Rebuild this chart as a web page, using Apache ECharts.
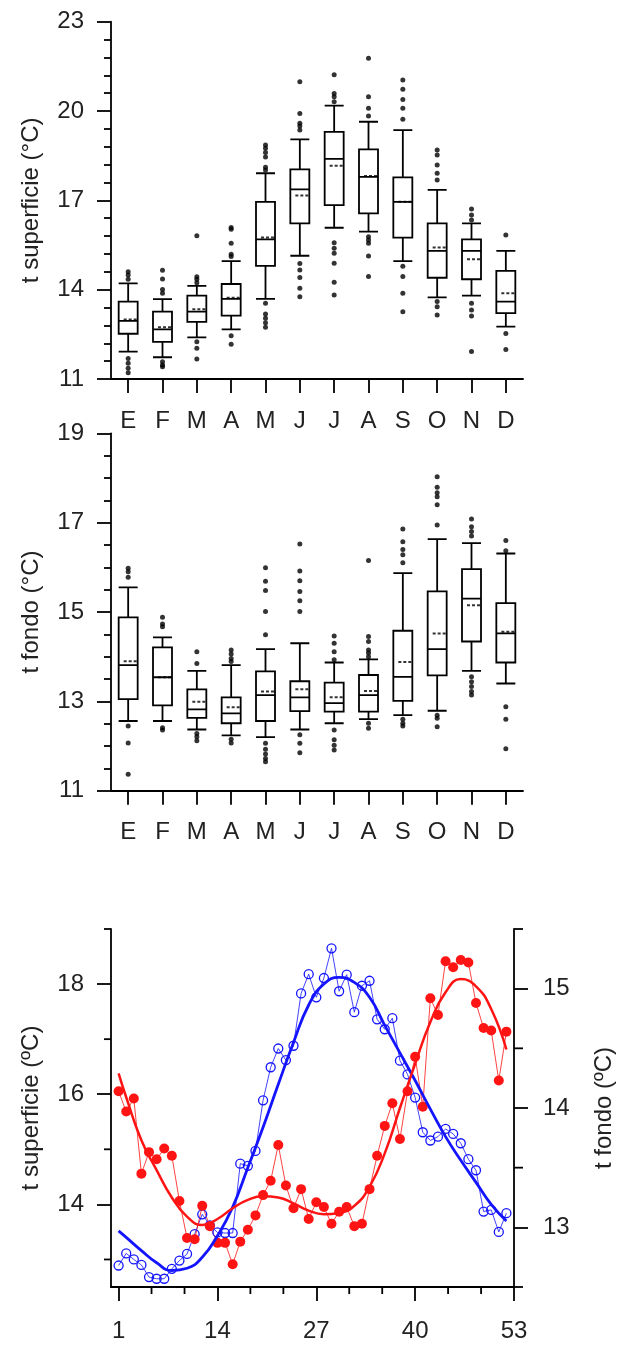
<!DOCTYPE html>
<html><head><meta charset="utf-8">
<script src="https://cdn.jsdelivr.net/npm/echarts@6/dist/echarts.min.js"></script>
<style>html,body{margin:0;padding:0;background:#fff}#c{width:624px;height:1345px}</style>
</head><body><div id="c"></div>
<script>
// ---------- data ----------
const months = ['E','F','M','A','M','J','J','A','S','O','N','D'];

// surface temperature boxplots [min whisker, Q1, median, Q3, max whisker]
const supBox = [
  [11.92,12.52,12.95,13.60,14.21],
  [11.73,12.25,12.67,13.26,13.68],
  [12.40,12.92,13.26,13.80,14.13],
  [12.67,13.13,13.69,14.19,14.96],
  [13.69,14.80,15.69,16.95,17.91],
  [15.14,16.23,17.37,18.04,19.05],
  [16.08,16.84,18.39,19.30,20.18],
  [15.95,16.56,17.79,18.71,19.64],
  [14.96,15.75,16.95,17.77,19.36],
  [13.74,14.40,15.30,16.23,17.35],
  [13.80,14.35,15.30,15.69,16.23],
  [12.76,13.21,13.60,14.63,15.30]
];
const supMean = [13.00,12.74,13.34,13.73,15.75,17.16,18.16,17.82,16.95,15.42,15.02,13.88];
const supOutliers = [
  [14.60,14.49,14.35,11.69,11.53,11.36,11.21],
  [14.65,14.36,14.01,13.88,11.58,11.47,11.41],
  [15.81,14.43,14.35,14.23,12.25,12.03,11.67],
  [16.09,16.03,15.56,15.19,15.11,12.45,12.17],
  [18.86,18.75,18.61,18.46,18.11,18.02,13.54,13.18,13.04,12.89,12.74],
  [20.98,19.92,19.59,19.50,19.36,14.88,14.66,14.41,14.05,13.76],
  [21.22,20.59,20.48,20.31,15.58,15.39,15.22,14.89,14.25,13.82],
  [21.77,20.48,20.09,19.83,15.78,15.67,15.56,15.13,14.44],
  [21.04,20.73,20.39,20.09,19.72,14.79,14.44,13.88,13.26],
  [18.69,18.52,18.19,17.91,17.68,13.60,13.43,13.15],
  [16.71,16.51,16.34,13.54,13.32,13.12,11.92],
  [15.84,12.53,11.99]
];

// bottom temperature boxplots
const fonBox = [
  [12.56,13.05,13.81,14.88,15.55],
  [12.56,12.91,13.54,14.21,14.43],
  [12.37,12.63,12.82,13.27,13.68],
  [12.24,12.51,12.73,13.09,13.81],
  [12.20,12.56,13.14,13.67,14.17],
  [12.37,12.78,13.09,13.45,14.30],
  [12.51,12.77,12.96,13.42,13.87],
  [12.60,12.77,13.14,13.59,13.94],
  [12.69,13.01,13.55,14.58,15.87],
  [12.79,13.58,14.17,15.46,16.63],
  [13.68,14.34,15.30,15.96,16.54],
  [13.40,13.87,14.52,15.20,16.31]
];
const fonMean = [13.90,13.54,12.99,12.87,13.22,13.27,13.09,13.23,13.88,14.52,15.15,14.56];
const fonOutliers = [
  [15.98,15.90,15.78,12.45,12.07,11.37],
  [14.88,14.73,14.67,12.41,12.36],
  [14.11,13.85,12.28,12.21,12.12],
  [14.15,14.06,13.96,13.89,12.15,12.07],
  [15.99,15.69,15.48,15.01,14.49,12.06,11.93,11.82,11.72,11.65],
  [16.52,15.92,15.70,15.46,15.25,15.01,12.25,12.06,11.85],
  [14.46,14.30,14.11,13.93,12.36,12.14,12.02,11.91],
  [16.15,14.45,14.34,14.15,14.08,14.00,12.51,12.40],
  [16.86,16.57,16.40,16.28,16.10,12.60,12.51,12.45],
  [18.03,17.79,17.67,17.58,17.40,16.95,12.69,12.62,12.43],
  [17.08,16.91,16.80,16.70,13.55,13.44,13.33,13.22,13.14],
  [16.60,16.37,12.88,12.60,11.94]
];

// weekly means (weeks 1..52)
const weeks = Array.from({length:52},(_,i)=>i+1);
const supWeekly = [12.89,13.11,13.00,12.90,12.68,12.65,12.65,12.83,12.98,13.10,
  13.46,13.82,13.62,13.49,13.48,13.48,14.74,14.70,14.97,15.89,
  16.49,16.83,16.62,16.88,17.83,18.18,17.76,18.11,18.65,17.87,
  18.17,17.49,17.97,18.06,17.36,17.18,17.38,16.61,16.36,15.94,
  15.31,15.16,15.23,15.37,15.28,15.11,14.82,14.62,13.87,13.90,
  13.50,13.84];
const fonWeekly = [14.14,13.97,14.08,13.45,13.63,13.57,13.66,13.60,13.22,12.91,
  12.90,13.18,13.01,12.87,12.87,12.69,12.88,12.98,13.10,13.27,
  13.39,13.69,13.35,13.16,13.32,13.07,13.21,13.17,13.03,13.13,
  13.17,13.01,13.03,13.32,13.60,13.85,14.04,13.74,14.14,14.43,
  14.01,14.92,14.78,15.23,15.18,15.24,15.22,14.88,14.67,14.65,
  14.23,14.64];
// fitted curves
const fitWeeks = [1,2,4,6,8,10,12,14,16,18,20,22,24,26,28,30,32,34,36,38,40,42,44,46,48,50,52];
const supFit = [13.52,13.40,13.16,12.94,12.80,12.84,13.04,13.43,13.95,14.67,15.40,16.18,16.94,17.62,18.00,18.12,18.03,17.76,17.25,16.75,16.25,15.73,15.23,14.80,14.40,14.00,13.70];
const fonFit = [14.29,14.09,13.73,13.48,13.25,13.09,13.02,13.07,13.16,13.23,13.26,13.25,13.20,13.14,13.11,13.12,13.18,13.34,13.62,14.00,14.37,14.72,14.97,15.08,15.02,14.83,14.49];

// tick labels / tick positions
const weekLabels = [1,14,27,40,53];
const weekMinor = [5.33,9.67,18.33,22.67,31.33,35.67,44.33,48.67];
const supLabels3 = [14,16,18];
const supMinor3 = [13,15,17,19];
const fonLabels3 = [13,14,15];
const fonMinor3 = [12.5,13.5,14.5,15.5];
const X3_MIN = 0, X3_MAX = 53;
const SUP3_MIN = 12.5, SUP3_MAX = 19, FON3_MIN = 12.5, FON3_MAX = 15.5;

// ---------- chart ----------
const FONT = 'Liberation Sans, Arial, sans-serif';
const TXT = '#222';
const LW = 1.8;
const lab = (m) => ({fontSize:24, fontFamily:FONT, color:TXT, margin:m});
const line = {show:true, onZero:false, lineStyle:{color:'#000', width:LW}};
const nameStyle = {fontSize:24, fontFamily:FONT, color:TXT};

function catAxis(g){
  return {type:'category', gridIndex:g, data:months, boundaryGap:true,
    axisLine:line, axisTick:{show:true, alignWithLabel:true, length:14, lineStyle:{color:'#000', width:LW}},
    axisLabel:Object.assign(lab(30),{interval:0}), splitLine:{show:false}};
}
function boxSeries(idx, box){
  return {type:'boxplot', xAxisIndex:idx, yAxisIndex:idx, data:box, boxWidth:[19,19],
    itemStyle:{color:'#fff', borderColor:'#000', borderWidth:LW}, silent:true, z:2};
}
function meanSeries(idx, mean){
  return {type:'scatter', xAxisIndex:idx, yAxisIndex:idx, data:mean.map((v,i)=>[i,v]),
    symbol:'path://M0,0h3v2h-3zM5,0h3v2h-3zM10,0h3v2h-3z', symbolSize:[13,2], symbolOffset:[2,0],
    itemStyle:{color:'#000'}, silent:true, z:4};
}
function outSeries(idx, outs){
  const d=[]; outs.forEach((arr,i)=>arr.forEach(v=>d.push([i,v])));
  return {type:'scatter', xAxisIndex:idx, yAxisIndex:idx, data:d, symbol:'circle', symbolSize:5,
    itemStyle:{color:'#000'}, silent:true, z:3};
}
// minor ticks drawn through the axis scales (dx,dy = tick direction*length)
function minorTicks(yIdx, pts, dx, dy){
  return {type:'custom', xAxisIndex:2, yAxisIndex:yIdx, data:pts, clip:false, silent:true, z:10,
    encode:{x:0, y:1},
    renderItem:function(params, api){
      const p = api.coord([api.value(0), api.value(1)]);
      return {type:'line', shape:{x1:p[0], y1:p[1], x2:p[0]+dx, y2:p[1]+dy},
        style:{stroke:'#000', lineWidth:LW}};
    }};
}

const blue = '#1414ff', red = '#ff1414';

const option = {
  animation:false,
  backgroundColor:'#fff',
  grid:[
    {left:111, right:101, top:21.7, height:357.3},
    {left:111, right:101, top:433.3, height:357.4},
    {left:111, right:101, top:929, height:358}
  ],
  xAxis:[
    catAxis(0), catAxis(1),
    {type:'value', gridIndex:2, min:X3_MIN, max:X3_MAX, position:'bottom', axisLine:line,
      axisTick:{show:true, customValues:weekLabels, length:14, lineStyle:{color:'#000', width:LW}},
      axisLabel:Object.assign(lab(32),{customValues:weekLabels}), splitLine:{show:false}}
  ],
  yAxis:[
    {type:'value', gridIndex:0, min:11, max:23, interval:3, axisLine:line,
      axisTick:{show:true, length:14, lineStyle:{color:'#000', width:LW}},
      minorTick:{show:true, splitNumber:5, length:7, lineStyle:{color:'#000', width:LW}},
      axisLabel:lab(27), splitLine:{show:false}, minorSplitLine:{show:false},
      name:'t superficie (°C)', nameLocation:'middle', nameGap:68, nameRotate:90, nameTextStyle:nameStyle},
    {type:'value', gridIndex:1, min:11, max:19, interval:2, axisLine:line,
      axisTick:{show:true, length:14, lineStyle:{color:'#000', width:LW}},
      minorTick:{show:true, splitNumber:4, length:7, lineStyle:{color:'#000', width:LW}},
      axisLabel:lab(27), splitLine:{show:false}, minorSplitLine:{show:false},
      name:'t fondo (°C)', nameLocation:'middle', nameGap:68, nameRotate:90, nameTextStyle:nameStyle},
    {type:'value', gridIndex:2, min:SUP3_MIN, max:SUP3_MAX, position:'left', axisLine:line,
      axisTick:{show:true, customValues:supLabels3, length:14, lineStyle:{color:'#000', width:LW}},
      axisLabel:Object.assign(lab(27),{customValues:supLabels3}), splitLine:{show:false},
      name:'t superficie (ºC)', nameLocation:'middle', nameGap:68, nameRotate:90, nameTextStyle:nameStyle},
    {type:'value', gridIndex:2, min:FON3_MIN, max:FON3_MAX, position:'right', axisLine:line,
      axisTick:{show:true, customValues:fonLabels3, length:14, lineStyle:{color:'#000', width:LW}},
      axisLabel:Object.assign(lab(29),{customValues:fonLabels3}), splitLine:{show:false},
      name:'t fondo (ºC)', nameLocation:'middle', nameGap:78, nameRotate:90, nameTextStyle:nameStyle}
  ],
  series:[
    boxSeries(0, supBox), outSeries(0, supOutliers), meanSeries(0, supMean),
    boxSeries(1, fonBox), outSeries(1, fonOutliers), meanSeries(1, fonMean),
    minorTicks(2, weekMinor.map(v=>[v, SUP3_MIN]), 0, 7),
    minorTicks(2, supMinor3.map(v=>[X3_MIN, v]), -7, 0),
    minorTicks(3, fonMinor3.map(v=>[X3_MAX, v]), 9, 0),
    {type:'line', xAxisIndex:2, yAxisIndex:2, data:weeks.map((w,i)=>[w,supWeekly[i]]),
      symbol:'circle', symbolSize:9, showSymbol:true,
      itemStyle:{color:'rgba(255,255,255,0)', borderColor:blue, borderWidth:1.3},
      lineStyle:{color:blue, width:1, opacity:0.8}, silent:true, z:3},
    {type:'line', xAxisIndex:2, yAxisIndex:3, data:weeks.map((w,i)=>[w,fonWeekly[i]]),
      symbol:'circle', symbolSize:10, showSymbol:true,
      itemStyle:{color:red, borderWidth:0},
      lineStyle:{color:red, width:1, opacity:0.8}, silent:true, z:3},
    {type:'line', xAxisIndex:2, yAxisIndex:2, data:fitWeeks.map((w,i)=>[w,supFit[i]]),
      smooth:0.5, showSymbol:false, symbol:'none', lineStyle:{color:blue, width:2.8}, silent:true, z:4},
    {type:'line', xAxisIndex:2, yAxisIndex:3, data:fitWeeks.map((w,i)=>[w,fonFit[i]]),
      smooth:0.5, showSymbol:false, symbol:'none', lineStyle:{color:red, width:2.5}, silent:true, z:4}
  ]
};
const chart = echarts.init(document.getElementById('c'), null, {renderer:'canvas'});
chart.setOption(option);
</script>
</body></html>
